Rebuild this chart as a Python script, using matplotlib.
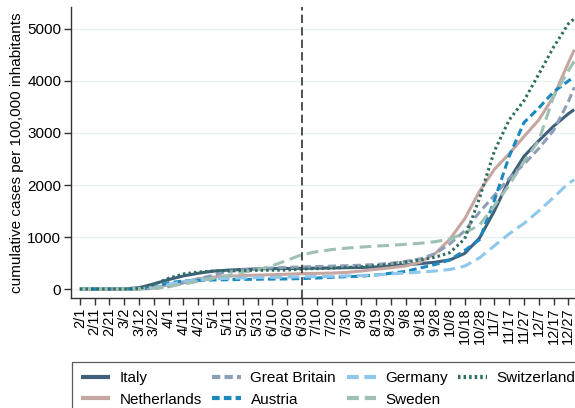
import matplotlib
matplotlib.use("Agg")
import matplotlib.pyplot as plt
import pandas as pd

plt.rcParams["font.family"] = ["Liberation Sans", "DejaVu Sans"]
plt.rcParams["lines.scale_dashes"] = False

# Observation dates (2020) and cumulative cases per 100,000 inhabitants
dates = ["2/1", "2/11", "2/21", "3/2", "3/12", "3/22", "4/1", "4/11", "4/21",
         "5/1", "5/11", "5/21", "5/31", "6/10", "6/20", "6/30", "7/10", "7/20",
         "7/30", "8/9", "8/19", "8/29", "9/8", "9/18", "9/28", "10/8", "10/18",
         "10/28", "11/7", "11/17", "11/27", "12/7", "12/17", "12/27", "12/31"]

italy = [0, 0, 0, 3, 25, 99, 182, 252, 303, 343, 363, 377, 385, 391, 394, 398,
         401, 405, 409, 414, 423, 442, 464, 488, 515, 560, 685, 980, 1500, 2100,
         2550, 2850, 3130, 3370, 3450]
netherlands = [0, 0, 0, 0, 3, 24, 78, 140, 195, 229, 245, 258, 267, 275, 284,
               295, 300, 306, 318, 345, 379, 408, 443, 517, 680, 960, 1350, 1880,
               2300, 2600, 2930, 3250, 3700, 4350, 4600]
great_britain = [0, 0, 0, 0, 1, 9, 45, 118, 194, 266, 334, 370, 390, 405, 415,
                 425, 432, 440, 448, 458, 472, 495, 530, 580, 680, 870, 1120,
                 1480, 1800, 2130, 2400, 2700, 3050, 3600, 3880]
austria = [0, 0, 0, 0, 3, 36, 120, 153, 166, 174, 179, 184, 188, 191, 194, 201,
           211, 225, 236, 247, 270, 303, 337, 405, 472, 560, 740, 950, 1700,
           2550, 3200, 3480, 3790, 4000, 4080]
germany = [0, 0, 0, 0, 3, 29, 87, 145, 176, 195, 205, 213, 219, 224, 229, 235,
           239, 243, 252, 260, 272, 292, 305, 325, 347, 375, 440, 600, 830, 1060,
           1260, 1500, 1760, 2030, 2100]
sweden = [0, 0, 0, 0, 6, 18, 48, 97, 146, 204, 262, 320, 369, 447, 553, 660,
          718, 757, 786, 806, 825, 840, 860, 880, 910, 960, 1080, 1230, 1600,
          2000, 2450, 2850, 3700, 4200, 4380]
switzerland = [0, 0, 0, 0, 9, 87, 207, 290, 326, 345, 352, 357, 359, 361, 364,
               385, 392, 401, 415, 427, 448, 477, 519, 558, 612, 700, 965, 1750,
               2650, 3250, 3620, 4130, 4650, 5100, 5200]

tick_dates = ["2/1", "2/11", "2/21", "3/2", "3/12", "3/22", "4/1", "4/11", "4/21",
              "5/1", "5/11", "5/21", "5/31", "6/10", "6/20", "6/30", "7/10",
              "7/20", "7/30", "8/9", "8/19", "8/29", "9/8", "9/18", "9/28",
              "10/8", "10/18", "10/28", "11/7", "11/17", "11/27", "12/7",
              "12/17", "12/27"]
y_ticks = [0, 1000, 2000, 3000, 4000, 5000]
cutoff_date = "6/30"


def day_of_year(s):
    return pd.Timestamp("2020/" + s).dayofyear


x = [day_of_year(d) for d in dates]

series = [
    ("Italy", italy, "#3f5f7b", "-"),
    ("Netherlands", netherlands, "#c6a6a0", "-"),
    ("Great Britain", great_britain, "#8d9fb6", (0, (6.0, 3.0))),
    ("Austria", austria, "#1b88bf", (0, (5.5, 3.0))),
    ("Germany", germany, "#8fc7ec", (0, (8.5, 4.0))),
    ("Sweden", sweden, "#9fc0b2", (0, (8.5, 4.3))),
    ("Switzerland", switzerland, "#2f6d61", (0, (1.8, 2.2))),
]

fig = plt.figure(figsize=(5.75, 4.08), dpi=100)
ax = fig.add_axes([71 / 575, 1 - 298 / 408, 1 - 71 / 575, (298 - 7) / 408])

for yt in y_ticks:
    ax.axhline(yt, color="#e9f1f2", lw=1.0, zorder=0)

handles = []
for name, vals, color, ls in series:
    (h,) = ax.plot(x, vals, color=color, ls=ls, lw=2.2, label=name,
                   solid_capstyle="butt", dash_capstyle="butt")
    handles.append(h)

ax.axvline(day_of_year(cutoff_date), color="#333333", lw=1.2,
           ls=(0, (6, 3)), zorder=5)

ax.set_xlim(26, 366.5)
ax.set_ylim(-173, 5423)

ax.set_xticks([day_of_year(t) for t in tick_dates])
ax.set_xticklabels(tick_dates, rotation=90, fontsize=10.5)
ax.set_yticks(y_ticks)
ax.set_yticklabels([str(v) for v in y_ticks], fontsize=11)
ax.tick_params(axis="both", direction="out", length=5, width=1,
               color="#333333", pad=2)
ax.set_ylabel("cumulative cases per 100,000 inhabitants", fontsize=11,
              labelpad=2)

for side in ("top", "right"):
    ax.spines[side].set_visible(False)
for side in ("left", "bottom"):
    ax.spines[side].set_color("#333333")
    ax.spines[side].set_linewidth(1.0)

leg = fig.legend(handles=handles, ncol=4, loc="upper left",
                 bbox_to_anchor=(72 / 575, 1 - 362 / 408),
                 fontsize=11, frameon=True, fancybox=False,
                 edgecolor="#333333", handlelength=1.9, handletextpad=0.6,
                 columnspacing=0.7, labelspacing=0.5, borderpad=0.6,
                 borderaxespad=0)
leg.get_frame().set_linewidth(0.9)
for line in leg.get_lines():
    line.set_linewidth(3.0)

fig.savefig("out.png", dpi=100)
